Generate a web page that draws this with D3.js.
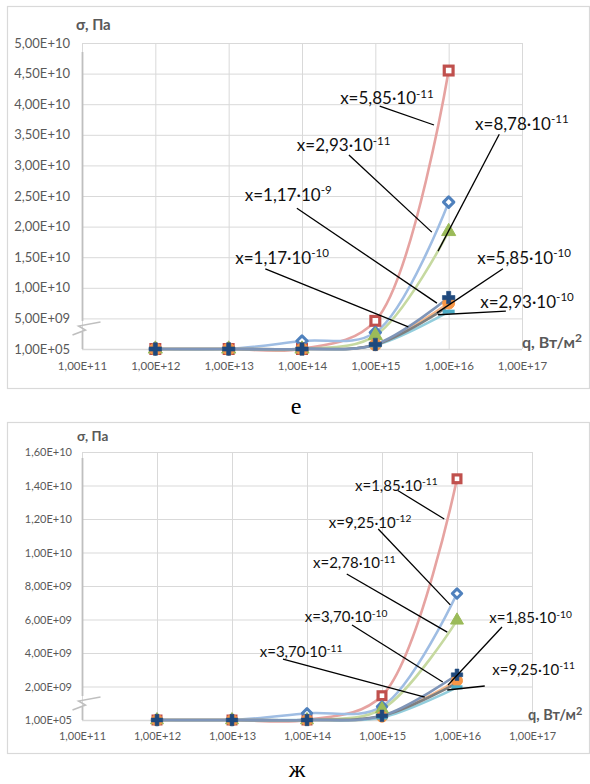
<!DOCTYPE html>
<html><head><meta charset="utf-8">
<script src="https://cdn.jsdelivr.net/npm/d3@7"></script>
<style>html,body{margin:0;padding:0;background:#fff;}svg{display:block;}</style>
</head><body>
<svg id="c" width="590" height="784"></svg>
<script>
// ---------- data ----------
const qPoints = [1e12, 1e13, 1e14, 1e15, 1e16];
const qTicks = [1e11, 1e12, 1e13, 1e14, 1e15, 1e16, 1e17];
const qTickLabels = ["1,00E+11","1,00E+12","1,00E+13","1,00E+14","1,00E+15","1,00E+16","1,00E+17"];

// chart "е"
const eYTicks = [1e5, 5e9, 1e10, 1.5e10, 2e10, 2.5e10, 3e10, 3.5e10, 4e10, 4.5e10, 5e10];
const eYTickLabels = ["1,00E+05","5,00E+09","1,00E+10","1,50E+10","2,00E+10","2,50E+10","3,00E+10","3,50E+10","4,00E+10","4,50E+10","5,00E+10"];
const eRed    = [1e5, 1e5, 1e5, 4.6e9, 4.55e10];   // x=5,85·10^-11
const eBlue   = [1e5, 1e5, 1.3e9, 2.7e9, 2.4e10];  // x=2,93·10^-11
const eGreen  = [1e5, 1e5, 1e5, 2.2e9, 1.92e10];   // x=8,78·10^-11
const eOrange = [1e5, 1e5, 1e5, 0.7e9, 7.5e9];     // x=5,85·10^-10
const eCyan   = [1e5, 1e5, 1e5, 0.6e9, 6.1e9];     // x=2,93·10^-10
const eGrey   = [1e5, 1e5, 1e5, 0.7e9, 7.0e9];     // x=1,17·10^-10
const eNavy   = [1e5, 1e5, 1e5, 0.75e9, 8.4e9];    // x=1,17·10^-9
// labels: [mantissa, exponent, label log10(q), label σ, leader from log10(q), σ, leader to log10(q), σ]
const eLabels = [
  ["5,85","-11", 14.52, 41.0e9, 15.06, 39.7e9, 15.80, 36.6e9],
  ["8,78","-11", 16.36, 36.8e9, 16.69, 35.1e9, 15.855, 16.0e9],
  ["2,93","-11", 13.93, 33.3e9, 14.64, 31.7e9, 15.77, 19.1e9],
  ["1,17","-9",  13.22, 25.2e9, 13.93, 23.0e9, 15.84, 7.5e9],
  ["1,17","-10", 13.09, 14.9e9, 13.50, 13.1e9, 15.45, 3.6e9],
  ["5,85","-10", 16.39, 14.9e9, 16.74, 13.1e9, 15.84, 5.9e9],
  ["2,93","-10", 16.43, 7.7e9,  16.78, 6.2e9,  15.855, 5.6e9]
];

// chart "ж"
const gYTicks = [1e5, 2e9, 4e9, 6e9, 8e9, 1e10, 1.2e10, 1.4e10, 1.6e10];
const gYTickLabels = ["1,00E+05","2,00E+09","4,00E+09","6,00E+09","8,00E+09","1,00E+10","1,20E+10","1,40E+10","1,60E+10"];
const gRed    = [1e5, 1e5, 1e5, 1.45e9, 1.44e10];  // x=1,85·10^-11
const gBlue   = [1e5, 1e5, 0.4e9, 0.8e9, 7.55e9];  // x=9,25·10^-12
const gGreen  = [1e5, 1e5, 1e5, 0.65e9, 5.95e9];   // x=2,78·10^-11
const gOrange = [1e5, 1e5, 1e5, 0.2e9, 2.35e9];    // x=1,85·10^-10
const gCyan   = [1e5, 1e5, 1e5, 0.15e9, 1.95e9];   // x=9,25·10^-11
const gGrey   = [1e5, 1e5, 1e5, 0.25e9, 2.2e9];    // x=3,70·10^-11
const gNavy   = [1e5, 1e5, 1e5, 0.25e9, 2.7e9];    // x=3,70·10^-10
const gLabels = [
  ["1,85","-11", 14.64, 14.0e9, 15.21, 13.7e9, 15.83, 12.0e9],
  ["9,25","-12", 14.29, 11.8e9, 14.95, 11.4e9, 15.91, 6.87e9],
  ["2,78","-11", 14.08, 9.37e9, 14.53, 8.72e9, 15.87, 5.25e9],
  ["3,70","-10", 13.97, 6.15e9, 14.60, 5.67e9, 15.81, 2.27e9],
  ["3,70","-11", 13.37, 4.06e9, 13.68, 3.64e9, 15.57, 1.37e9],
  ["1,85","-10", 16.43, 6.09e9, 16.60, 5.55e9, 15.88, 2.09e9],
  ["9,25","-11", 16.47, 2.99e9, 16.37, 2.03e9, 15.87, 1.79e9]
];

// ---------- drawing ----------
const svg = d3.select("#c");
const FONT = "Lato, 'Open Sans', sans-serif";

const seriesStyle = {
  red:    {line:"#e6a3a1", marker:"square"},
  blue:   {line:"#9fbde3", marker:"diamond"},
  green:  {line:"#c6d9a0", marker:"triangle"},
  grey:   {line:"#7f7f7f", marker:null},
  orange: {line:"#f6b88a", marker:"circle"},
  cyan:   {line:"#92cddc", marker:"dash"},
  navy:   {line:"#7f95b8", marker:"plus"}
};

function drawChart(cfg) {
  const g = svg.append("g");
  // frame
  g.append("rect").attr("x", cfg.frame[0]+0.5).attr("y", cfg.frame[1]+0.5)
    .attr("width", cfg.frame[2]-cfg.frame[0]).attr("height", cfg.frame[3]-cfg.frame[1])
    .attr("fill","#fff").attr("stroke","#d9d9d9").attr("stroke-width",1.2);

  const x = d3.scaleLog().domain([1e11, 1e17]).range([cfg.left, cfg.right]);
  const y = d3.scaleLinear().domain([0, cfg.yMax]).range([cfg.bottom, cfg.top]);

  // gridlines
  const yAxis = d3.axisLeft(y).tickValues(cfg.yTicks).tickSize(-(cfg.right-cfg.left))
    .tickFormat((d,i)=>cfg.yTickLabels[i]).tickPadding(cfg.yPad);
  const ya = g.append("g").attr("transform",`translate(${cfg.left},0)`).call(yAxis);
  ya.select(".domain").remove();
  ya.selectAll(".tick line").attr("stroke","#d9d9d9").attr("stroke-width",1);
  ya.selectAll(".tick text").attr("fill","#595959").style("font-family",FONT).style("font-size",cfg.yFont+"px");

  const xAxis = d3.axisBottom(x).tickValues(qTicks).tickSize(-(cfg.bottom-cfg.top))
    .tickFormat((d,i)=>qTickLabels[i]).tickPadding(cfg.xPad);
  const xa = g.append("g").attr("transform",`translate(0,${cfg.bottom})`).call(xAxis);
  xa.select(".domain").remove();
  xa.selectAll(".tick line").attr("stroke","#d9d9d9").attr("stroke-width",1);
  xa.selectAll(".tick text").attr("fill","#595959").style("font-family",FONT).style("font-size",cfg.xFont+"px");

  // baseline + broken left axis
  g.append("line").attr("x1",cfg.left).attr("x2",cfg.right).attr("y1",y(0)+0.5).attr("y2",y(0)+0.5)
    .attr("stroke","#d9d9d9").attr("stroke-width",1.5);
  const ax = cfg.left + 0.5;
  g.append("line").attr("x1",ax).attr("x2",ax).attr("y1",cfg.axisTop).attr("y2",cfg.breakY-5)
    .attr("stroke","#bfbfbf").attr("stroke-width",1.8);
  g.append("line").attr("x1",ax).attr("x2",ax).attr("y1",cfg.breakY+6).attr("y2",cfg.bottom)
    .attr("stroke","#bfbfbf").attr("stroke-width",1.8);
  const b = cfg.breakY;
  g.append("path")
    .attr("d",`M${ax-10},${b+9} L${ax+3},${b+4} L${ax-4},${b} L${ax+18},${b-4}`)
    .attr("fill","none").attr("stroke","#bfbfbf").attr("stroke-width",1.5);

  // axis titles
  g.append("text").attr("x",cfg.yTitle[0]).attr("y",cfg.yTitle[1]).text("σ, Па")
    .attr("fill","#595959").style("font-family",FONT).style("font-weight","bold").style("font-size",cfg.titleFont+"px");
  const qt = g.append("text").attr("x",cfg.xTitle[0]).attr("y",cfg.xTitle[1])
    .attr("fill","#595959").style("font-family",FONT).style("font-weight","bold").style("font-size",cfg.qFont+"px");
  qt.append("tspan").text("q, Вт/м");
  qt.append("tspan").text("2").attr("dy",-cfg.qFont*0.35).style("font-size",(cfg.qFont*0.75)+"px");

  // lines
  const line = d3.line().x((d,i)=>x(qPoints[i])).y(d=>y(d)).curve(d3.curveCatmullRom.alpha(0.5));
  const order = ["red","blue","green","orange","cyan","grey","navy"];
  order.forEach(k=>{
    g.append("path").datum(cfg.series[k]).attr("d",line).attr("fill","none")
      .attr("stroke",seriesStyle[k].line).attr("stroke-width",2.6)
      .attr("stroke-linecap","round");
  });

  // markers
  const s = cfg.ms;
  order.forEach(k=>{
    const st = seriesStyle[k];
    if (!st.marker) return;
    const mg = g.append("g");
    cfg.series[k].forEach((v,i)=>{
      const px = x(qPoints[i]), py = y(v);
      if (st.marker==="square") {
        mg.append("rect").attr("x",px-s/2+1.6).attr("y",py-s/2+1.6).attr("width",s-3.2).attr("height",s-3.2)
          .attr("fill","#fff").attr("stroke","#c0504d").attr("stroke-width",3.2);
      } else if (st.marker==="diamond") {
        const r = s/2 - 0.8;
        mg.append("path").attr("d",`M0,${-r} L${r},0 L0,${r} L${-r},0 Z`)
          .attr("transform",`translate(${px},${py})`)
          .attr("fill","#fff").attr("stroke","#4f81bd").attr("stroke-width",3).attr("stroke-linejoin","round");
      } else if (st.marker==="triangle") {
        mg.append("path").attr("d",d3.symbol(d3.symbolTriangle, s*s*0.6)())
          .attr("transform",`translate(${px},${py})`)
          .attr("fill","#9bbb59").attr("stroke","#9bbb59").attr("stroke-width",1);
      } else if (st.marker==="circle") {
        mg.append("circle").attr("cx",px).attr("cy",py).attr("r",s/2)
          .attr("fill","#f79646").attr("stroke","#f79646").attr("stroke-width",1);
      } else if (st.marker==="dash") {
        mg.append("rect").attr("x",px-s/2).attr("y",py-2).attr("width",s).attr("height",4)
          .attr("fill","#4bacc6");
      } else if (st.marker==="plus") {
        mg.append("path").attr("d",d3.symbol(d3.symbolCross, s*s*0.6)())
          .attr("transform",`translate(${px},${py})`)
          .attr("fill","#1f497d").attr("stroke","#1f497d").attr("stroke-width",0.6);
      }
    });
  });

  // annotations
  cfg.labels.forEach(a=>{
    const [m, e, lq, ls, fq, fs, tq, ts] = a;
    g.append("line").attr("x1",x(Math.pow(10,fq))).attr("y1",y(fs))
      .attr("x2",x(Math.pow(10,tq))).attr("y2",y(ts))
      .attr("stroke","#000").attr("stroke-width",1.3);
    const t = g.append("text").attr("x",x(Math.pow(10,lq))).attr("y",y(ls)).attr("dy","0.35em")
      .attr("fill","#111").style("font-family",FONT).style("font-size",cfg.labelFont+"px");
    t.append("tspan").text("x=" + m + "·10");
    t.append("tspan").text(e).attr("dy",-cfg.labelFont*0.38).style("font-size",(cfg.labelFont*0.68)+"px");
  });

  // caption
  svg.append("text").attr("x",cfg.caption[0]).attr("y",cfg.caption[1]).attr("text-anchor","middle")
    .text(cfg.captionText).attr("fill","#000")
    .style("font-family","'Liberation Serif','DejaVu Serif',serif").style("font-size","24px");
}

drawChart({
  frame:[7,6,589,388], left:82, right:522, top:43, bottom:349, yMax:5e10,
  yTicks:eYTicks, yTickLabels:eYTickLabels, yFont:13, xFont:11.5, yPad:12, xPad:13,
  axisTop:52, breakY:326, titleFont:15, qFont:16, yTitle:[76,30], xTitle:[522,348],
  series:{red:eRed, blue:eBlue, green:eGreen, orange:eOrange, cyan:eCyan, grey:eGrey, navy:eNavy},
  labels:eLabels, labelFont:17, ms:12, caption:[296,414], captionText:"е"
});
drawChart({
  frame:[7,422,589,753], left:82, right:532, top:452, bottom:720, yMax:1.6e10,
  yTicks:gYTicks, yTickLabels:gYTickLabels, yFont:11, xFont:11, yPad:10, xPad:12,
  axisTop:458, breakY:701, titleFont:13.5, qFont:14.5, yTitle:[77,441], xTitle:[528,720],
  series:{red:gRed, blue:gBlue, green:gGreen, orange:gOrange, cyan:gCyan, grey:gGrey, navy:gNavy},
  labels:gLabels, labelFont:15, ms:11, caption:[297,777], captionText:"ж"
});
</script>
</body></html>
